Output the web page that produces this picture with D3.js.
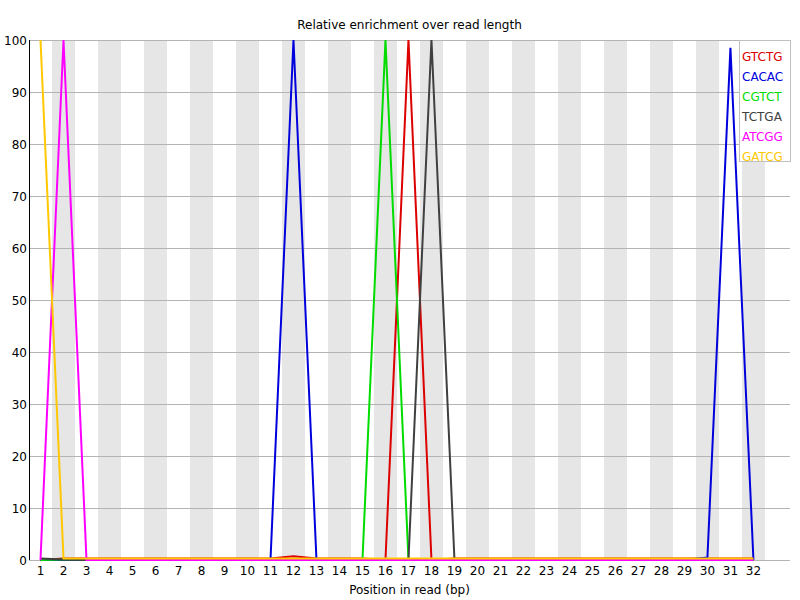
<!DOCTYPE html>
<html lang="en">
<head>
  <meta charset="UTF-8">
  <title>Relative enrichment over read length</title>
  <script src="https://d3js.org/d3.v7.min.js"></script>
  <style>
    body { margin: 0; background: #fff; }
    svg { display: block; font-family: 'DejaVu Sans', sans-serif; }
  </style>
</head>
<body>
  <div id="chart"></div>
  <script>
    // positions along the read (bp)
    const positions = d3.range(1, 33);
    const yTicks = [0, 10, 20, 30, 40, 50, 60, 70, 80, 90, 100];
    const kmers = ["GTCTG", "CACAC", "CGTCT", "TCTGA", "ATCGG", "GATCG"];
    const colors = ["#dc0000", "#0000dc", "#00dc00", "#404040", "#ff00ff", "#ffc800"];

    // relative enrichment per position, one array per kmer
    const gtctg = [0, 0.3, 0.3, 0.3, 0.3, 0.3, 0.3, 0.3, 0.3, 0.3, 0.3, 0.7, 0.3, 0.3, 0.3, 0,
                   100, 0, 0.3, 0.3, 0.3, 0.3, 0.3, 0.3, 0.3, 0.3, 0.3, 0.3, 0.3, 0.3, 0.3, 0.3];
    const cacac = [0, 0, 0, 0, 0, 0, 0, 0, 0, 0, 0, 100, 0, 0, 0, 0,
                   0, 0, 0, 0, 0, 0, 0, 0, 0, 0, 0, 0, 0, 0.5, 98.5, 0];
    const cgtct = [0, 0.1, 0.1, 0.1, 0.1, 0.1, 0.1, 0.1, 0.1, 0.1, 0.1, 0.1, 0.1, 0.1, 0, 100,
                   0, 0.1, 0.1, 0.1, 0.1, 0.1, 0.1, 0.1, 0.1, 0.1, 0.1, 0.1, 0.1, 0.1, 0.1, 0.1];
    const tctga = [0.3, 0.1, 0, 0, 0, 0, 0, 0, 0, 0, 0, 0, 0, 0, 0, 0,
                   0, 100, 0, 0, 0, 0, 0, 0, 0, 0, 0, 0, 0, 0, 0, 0];
    const atcgg = [0, 100, 0, 0, 0, 0, 0, 0, 0, 0, 0, 0, 0, 0, 0, 0,
                   0, 0, 0, 0, 0, 0, 0, 0, 0, 0, 0, 0, 0, 0, 0, 0];
    const gatcg = [100, 0.3, 0.3, 0.3, 0.3, 0.3, 0.3, 0.3, 0.3, 0.3, 0.3, 0.3, 0.3, 0.3, 0.3, 0.3,
                   0.3, 0.3, 0.3, 0.3, 0.3, 0.3, 0.3, 0.3, 0.3, 0.3, 0.3, 0.3, 0.3, 0.3, 0.3, 0.3];
    const seriesValues = [gtctg, cacac, cgtct, tctga, atcgg, gatcg];

    const width = 800, height = 600;
    const margin = { top: 40, right: 10, bottom: 40, left: 29 };

    const svg = d3.select("#chart").append("svg")
      .attr("width", width)
      .attr("height", height);

    const x = d3.scaleLinear()
      .domain([0.5, 33.59])
      .range([margin.left, width - margin.right]);
    const y = d3.scaleLinear()
      .domain([0, 100])
      .range([height - margin.bottom, margin.top]);

    const step = x(2) - x(1);

    // alternating grey bands behind even positions
    svg.append("g").selectAll("rect")
      .data(positions.filter(p => p % 2 === 0))
      .join("rect")
      .attr("x", p => x(p) - step / 2)
      .attr("y", y(100))
      .attr("width", step)
      .attr("height", y(0) - y(100))
      .attr("fill", "#e6e6e6");

    // horizontal gridlines
    svg.append("g").selectAll("line")
      .data(yTicks)
      .join("line")
      .attr("x1", margin.left)
      .attr("x2", width - margin.right)
      .attr("y1", d => y(d) + 0.5)
      .attr("y2", d => y(d) + 0.5)
      .attr("stroke", "#b4b4b4")
      .attr("stroke-width", 1);

    // y axis line
    svg.append("line")
      .attr("x1", margin.left + 0.5).attr("x2", margin.left + 0.5)
      .attr("y1", y(100)).attr("y2", y(0))
      .attr("stroke", "#000");

    svg.append("g").selectAll("text")
      .data(yTicks)
      .join("text")
      .attr("x", margin.left - 2)
      .attr("y", d => y(d) + 5)
      .attr("text-anchor", "end")
      .attr("font-size", "12px")
      .text(d => d);

    svg.append("g").selectAll("text")
      .data(positions)
      .join("text")
      .attr("x", p => x(p))
      .attr("y", 575)
      .attr("text-anchor", "middle")
      .attr("font-size", "12px")
      .text(p => p);

    // series lines
    const line = d3.line()
      .x((v, i) => x(positions[i]))
      .y(v => y(v));

    svg.append("g").selectAll("path")
      .data(seriesValues)
      .join("path")
      .attr("d", line)
      .attr("fill", "none")
      .attr("stroke", (d, i) => colors[i])
      .attr("stroke-width", 2);

    // title and axis label
    const mid = (margin.left + width - margin.right) / 2;
    svg.append("text")
      .attr("x", mid).attr("y", 29)
      .attr("text-anchor", "middle")
      .attr("font-size", "12px")
      .text("Relative enrichment over read length");

    svg.append("text")
      .attr("x", mid).attr("y", 594)
      .attr("text-anchor", "middle")
      .attr("font-size", "12px")
      .text("Position in read (bp)");

    // legend
    const legend = svg.append("g");
    legend.append("rect")
      .attr("x", 739.5).attr("y", 40.5)
      .attr("width", 51).attr("height", 121)
      .attr("fill", "#fff")
      .attr("stroke", "#c0c0c0");
    legend.selectAll("text")
      .data(kmers)
      .join("text")
      .attr("x", 742)
      .attr("y", (d, i) => 61 + i * 20)
      .attr("font-size", "12px")
      .attr("fill", (d, i) => colors[i])
      .text(d => d);
  </script>
</body>
</html>
